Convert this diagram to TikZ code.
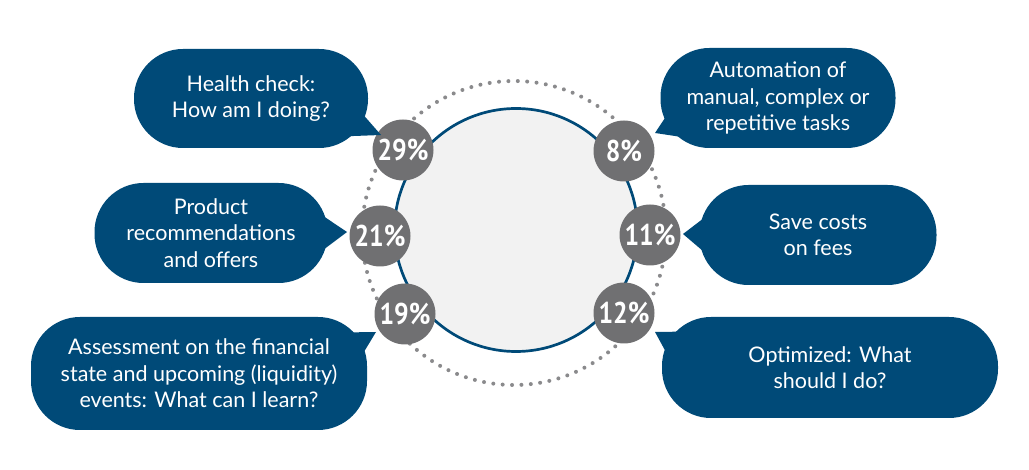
\documentclass[tikz,border=0pt]{standalone}
\usepackage{graphicx}
\usepackage{fontspec}
\setmainfont{Lato}
\newfontfamily\pctfont{PT Sans}
\definecolor{bblue}{RGB}{0,74,120}
\definecolor{pgray}{RGB}{112,112,114}
\definecolor{dotgray}{RGB}{138,138,140}
\definecolor{innerfill}{RGB}{242,242,242}
\newcommand{\pctxt}[1]{\scalebox{0.86}[1]{#1}}
\begin{document}
\begin{tikzpicture}[x=1pt,y=-1pt,
  bubble/.style 2 args={fill=bblue, rounded corners=49pt, text=white, align=center,
    inner sep=0pt, minimum width=#1pt, minimum height=#2pt,
    font=\fontsize{21.5}{26.5}\selectfont},
  tail/.style={fill=bblue},
  pct/.style={circle, fill=pgray, minimum size=61pt, inner sep=0pt, text=white,
    font=\pctfont\bfseries\fontsize{30}{30}\selectfont}]
\useasboundingbox (0,0) rectangle (1029,470);
% rings
\node[circle, draw=dotgray, line width=4pt, line cap=round, dash pattern=on 0pt off 9.4pt,
  minimum size=304pt, inner sep=0pt] (dots) at (514,233) {};
\node[circle, draw=bblue, fill=innerfill, line width=2.7pt, minimum size=243pt, inner sep=0pt] (ring) at (516,230) {};
% bubbles
\node[bubble={234}{99}] (b1) at (251,98.5) {Health check:\\How am I doing?};
\node[bubble={233}{100}] (b2) at (211,233) {Product\\recommendations\\and offers};
\node[bubble={336}{113}] (b3) at (199,373.5) {Assessment on the financial\\state and upcoming (liquidity)\\events: What can I learn?};
\node[bubble={235}{100}] (b4) at (778,98) {Automation of\\manual, complex or\\repetitive tasks};
\node[bubble={237}{100}] (b5) at (818,235) {Save costs\\on fees};
\node[bubble={336}{101}] (b6) at (830,367.5) {Optimized: What\\should I do?};
% percentage circles
\node[pct] (p29) at (403,150) {\pctxt{29\%}};
\node[pct] (p21) at (380,236) {\pctxt{21\%}};
\node[pct] (p19) at (405,314) {\pctxt{19\%}};
\node[pct] (p8) at (624,151) {\pctxt{8\%}};
\node[pct] (p11) at (650,235) {\pctxt{11\%}};
\node[pct] (p12) at (624,313) {\pctxt{12\%}};
% tails
\coordinate (t1) at (381,135);
\coordinate (t2) at (347,232);
\coordinate (t3) at (376,332);
\coordinate (t4) at (655,133);
\coordinate (t5) at (683,234);
\coordinate (t6) at (655,332);
\fill[tail] ([shift={(-6,15)}]b1.east) -- (t1) -- ([shift={(-28,38)}]b1.east) -- cycle;
\fill[tail] ([shift={(-6,-18)}]b2.east) -- (t2) -- ([shift={(-6,18)}]b2.east) -- cycle;
\fill[tail] ([shift={(-25,-41)}]b3.east) -- (t3) -- ([shift={(-6,-17)}]b3.east) -- cycle;
\fill[tail] ([shift={(10,12)}]b4.west) -- (t4) -- ([shift={(28,40)}]b4.west) -- cycle;
\fill[tail] ([shift={(6,-18)}]b5.west) -- (t5) -- ([shift={(6,18)}]b5.west) -- cycle;
\fill[tail] ([shift={(28,-36)}]b6.west) -- (t6) -- ([shift={(6,-12)}]b6.west) -- cycle;
\end{tikzpicture}
\end{document}
